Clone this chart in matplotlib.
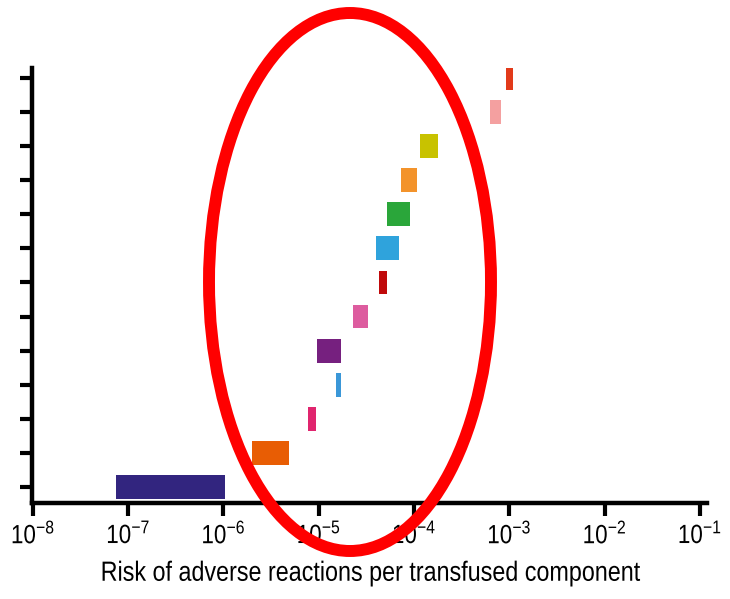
import numpy as np
import matplotlib.pyplot as plt
from matplotlib.patches import Ellipse
from matplotlib.patheffects import AbstractPathEffect
from matplotlib.transforms import Affine2D

plt.rcParams['font.family'] = ['Liberation Sans', 'DejaVu Sans']
plt.rcParams['mathtext.fontset'] = 'custom'
plt.rcParams['mathtext.rm'] = 'Liberation Sans'
plt.rcParams['mathtext.default'] = 'regular'

# risk ranges (low, high) per transfused component, bottom row first
low = [7.5e-8, 2.0e-6, 7.7e-6, 1.5e-5, 9.5e-6, 2.3e-5, 4.3e-5, 4.0e-5, 5.2e-5, 7.3e-5, 1.15e-4, 6.2e-4, 9.2e-4]
high = [1.03e-6, 4.9e-6, 9.4e-6, 1.7e-5, 1.7e-5, 3.3e-5, 5.2e-5, 7.0e-5, 9.0e-5, 1.07e-4, 1.8e-4, 8.1e-4, 1.09e-3]
colors = ["#32257f", "#e85d04", "#e0256e", "#3a97d8", "#76207f", "#dd5c9f", "#c00a0b",
          "#2fa3dc", "#2aa63a", "#f3932b", "#c8c200", "#f4a0a0", "#e23a1a"]
xticks = [1e-8, 1e-7, 1e-6, 1e-5, 1e-4, 1e-3, 1e-2, 1e-1]
xticklabels = ["10$^{-8}$", "10$^{-7}$", "10$^{-6}$", "10$^{-5}$", "10$^{-4}$", "10$^{-3}$", "10$^{-2}$", "10$^{-1}$"]


class Squeeze(AbstractPathEffect):
    # narrows text horizontally about its centre (condensed look)
    def __init__(self, sx):
        super().__init__()
        self.sx = sx

    def draw_path(self, renderer, gc, tpath, affine, rgbFace=None):
        ext = tpath.get_extents()
        cx = (ext.x0 + ext.x1) / 2
        t = Affine2D().translate(-cx, 0).scale(self.sx, 1).translate(cx, 0) + affine
        renderer.draw_path(gc, tpath, t, rgbFace)


fig = plt.figure(figsize=(7.30, 5.99), dpi=100)
ax = fig.add_axes([32/730, 96/599, 675/730, 435/599])

y = np.arange(len(low))
widths = np.array(high) - np.array(low)
ax.barh(y, widths, left=low, height=0.7, color=colors)

ax.set_xscale('log')
ax.set_xlim(10**-8.01, 10**-0.925)
ax.set_ylim(-0.47, 12.29)
ax.set_xticks(xticks)
ax.set_xticklabels(xticklabels, fontsize=19)
for lab in ax.get_xticklabels():
    lab.set_path_effects([Squeeze(0.85)])
ax.xaxis.set_minor_locator(plt.NullLocator())
ax.set_yticks(y)
ax.set_yticklabels([])
ax.tick_params(axis='both', width=3, length=9, direction='out')
ax.tick_params(axis='x', pad=4)
for s in ['top', 'right']:
    ax.spines[s].set_visible(False)
for s in ['left', 'bottom']:
    ax.spines[s].set_linewidth(3.2)
xl = ax.set_xlabel("Risk of adverse reactions per transfused component", fontsize=20, labelpad=9)
xl.set_path_effects([Squeeze(0.84)])

# red highlight ellipse
ell = Ellipse((350/730, 1 - 282/599), 282/730, 538/599, transform=fig.transFigure,
              fill=False, edgecolor="#ff0000", linewidth=8.6, clip_on=False, zorder=10)
fig.patches.append(ell)

fig.savefig("out.png", dpi=100)
